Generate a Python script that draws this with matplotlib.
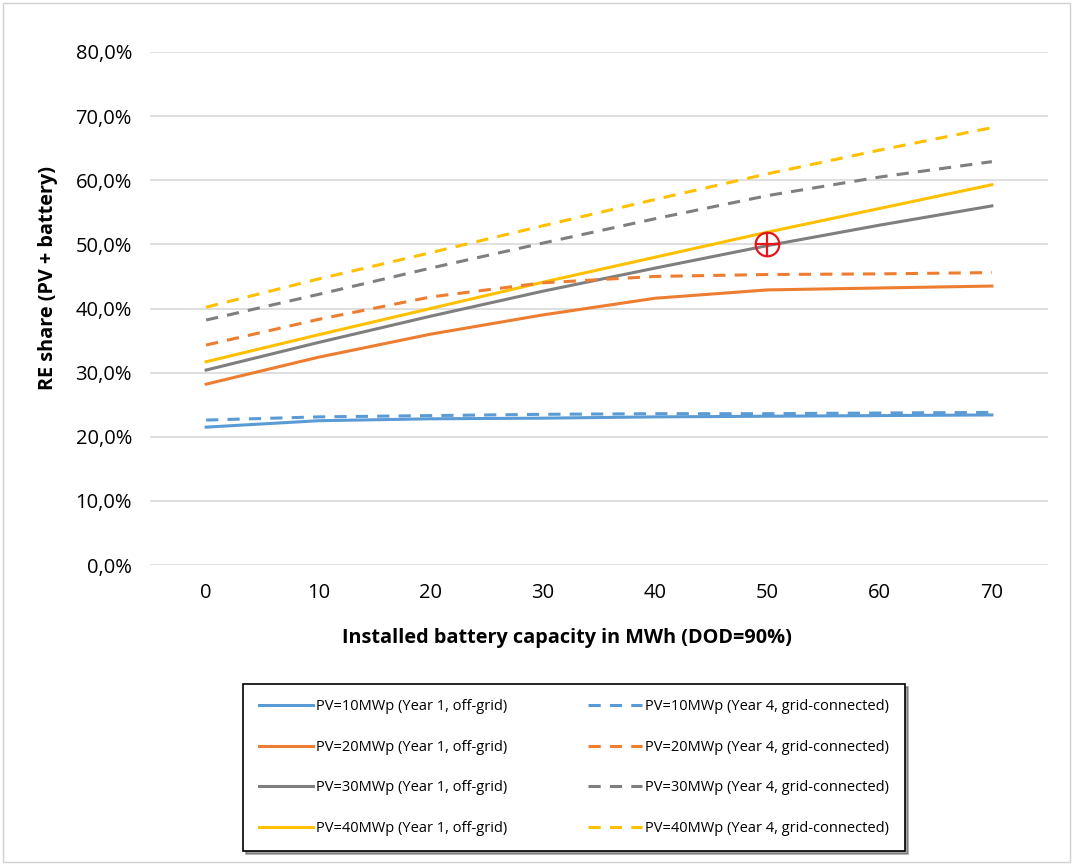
import matplotlib.pyplot as plt
from matplotlib.patches import Rectangle
from matplotlib.ticker import FuncFormatter

plt.rcParams['font.family'] = ['Open Sans', 'DejaVu Sans']

# Data (RE share in %)
capacity = [0, 10, 20, 30, 40, 50, 60, 70]

pv10_y1 = [21.5, 22.5, 22.8, 22.9, 23.1, 23.2, 23.3, 23.4]
pv20_y1 = [28.2, 32.4, 36.0, 39.0, 41.6, 42.9, 43.2, 43.5]
pv30_y1 = [30.4, 34.7, 38.8, 42.7, 46.3, 49.8, 53.0, 56.0]
pv40_y1 = [31.7, 35.9, 40.0, 44.1, 48.0, 51.9, 55.6, 59.3]

pv10_y4 = [22.6, 23.1, 23.3, 23.5, 23.6, 23.6, 23.7, 23.8]
pv20_y4 = [34.3, 38.3, 41.8, 44.0, 45.0, 45.3, 45.4, 45.6]
pv30_y4 = [38.2, 42.2, 46.3, 50.2, 54.0, 57.6, 60.5, 62.9]
pv40_y4 = [40.2, 44.6, 48.7, 52.9, 57.0, 61.0, 64.7, 68.2]

marker_x = 50
marker_y = 50.0

labels_y1 = ["PV=10MWp (Year 1, off-grid)", "PV=20MWp (Year 1, off-grid)",
             "PV=30MWp (Year 1, off-grid)", "PV=40MWp (Year 1, off-grid)"]
labels_y4 = ["PV=10MWp (Year 4, grid-connected)", "PV=20MWp (Year 4, grid-connected)",
             "PV=30MWp (Year 4, grid-connected)", "PV=40MWp (Year 4, grid-connected)"]
colors = ["#5B9BD5", "#ED7D31", "#7F7F7F", "#FFC000"]

fig = plt.figure(figsize=(10.73, 8.65), dpi=100)
ax = fig.add_axes([0.1398, 0.3468, 0.8369, 0.5931])

handles = []
for vals, lab, c in zip([pv10_y1, pv20_y1, pv30_y1, pv40_y1], labels_y1, colors):
    h, = ax.plot(capacity, vals, color=c, lw=2.2, label=lab, zorder=3)
    handles.append(h)
for vals, lab, c in zip([pv10_y4, pv20_y4, pv30_y4, pv40_y4], labels_y4, colors):
    h, = ax.plot(capacity, vals, color=c, lw=2.2, ls=(0, (4, 3)), label=lab, zorder=3)
    handles.append(h)

# highlighted point
ax.plot([marker_x], [marker_y], marker='o', ms=17, mfc='none', mec='#E8151B', mew=1.6, zorder=5)
ax.plot([marker_x], [marker_y], marker='+', ms=17, mec='#E8151B', mew=1.6, zorder=5)

ax.set_xlim(-5, 75)
ax.set_ylim(0, 80)
ax.set_xticks(capacity)
ax.set_yticks(range(0, 81, 10))
ax.yaxis.set_major_formatter(FuncFormatter(lambda v, p: f"{v:.1f}%".replace('.', ',')))
ax.grid(axis='y', color='#D9D9D9', lw=1.2)
ax.set_axisbelow(True)
for s in ax.spines.values():
    s.set_visible(False)
ax.tick_params(length=0, labelsize=14.5, colors='#000000')
ax.tick_params(axis='y', pad=13)
ax.tick_params(axis='x', pad=13)

ax.set_xlabel("Installed battery capacity in MWh (DOD=90%)", fontsize=14.3, fontweight='bold')
ax.set_ylabel("RE share (PV + battery)", fontsize=14.3, fontweight='bold')
ax.xaxis.set_label_coords(0.464, -0.1228)
ax.yaxis.set_label_coords(-0.1024, 0.559)

leg = fig.legend(handles=handles, ncol=2, loc='center',
                 bbox_to_anchor=(0.2200, 0.0173, 0.630, 0.191), mode='expand',
                 fontsize=10.5, frameon=True, fancybox=False, shadow=True,
                 handlelength=3.7, labelspacing=1.75, columnspacing=2.5,
                 borderpad=1.05, handletextpad=0.25)
leg.get_frame().set_edgecolor('#000000')
leg.get_frame().set_linewidth(1.2)

# outer chart frame
fig.patches.append(Rectangle((0.003, 0.003), 0.994, 0.994, transform=fig.transFigure,
                             fill=False, edgecolor='#D0D0D0', lw=1.0))

fig.savefig("out.png", dpi=100)
